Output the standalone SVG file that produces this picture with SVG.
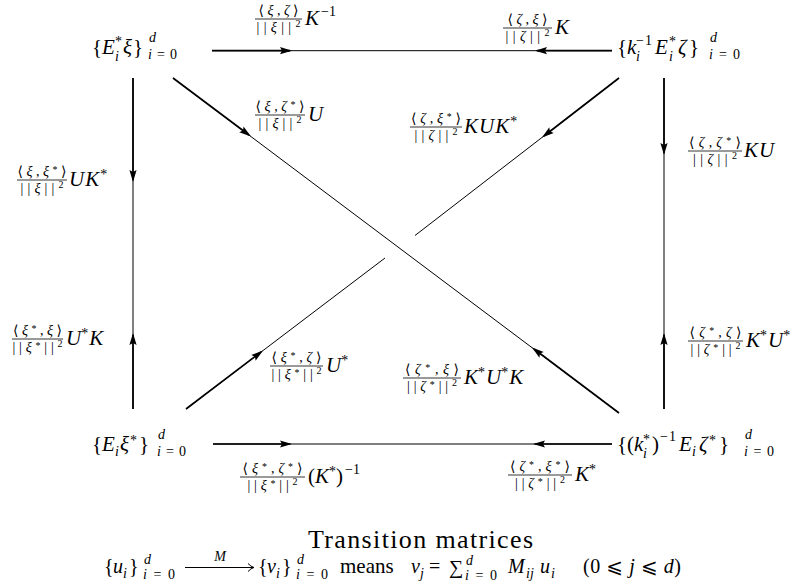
<svg xmlns="http://www.w3.org/2000/svg" width="803" height="587" viewBox="0 0 803 587">
<style>
text { font-family: "Liberation Serif", "DejaVu Serif", "DejaVu Sans", serif; fill: #000; }
.M { font-size: 21px; }
.S { font-size: 14px; }
.SS { font-size: 10px; }
.i { font-style: italic; }
.n { font-style: normal; }
.c { text-anchor: middle; }
.e { stroke: #000; stroke-width: 1; fill: none; }
.t { stroke: #000; stroke-width: 1.7; fill: none; }
.fb { stroke: #000; stroke-width: 0.8; }
.ah { fill: #000; }
</style>
<defs>
<path id="ah" class="ah" d="M0,0 L-12,-3.6 L-10,0 L-12,3.6 Z"/>
</defs>
<rect width="803" height="587" fill="#fff"/>

<g id="connectors">
  <line class="e" x1="212" y1="50.7" x2="612" y2="50.7"/>
  <line class="t" x1="212" y1="50.7" x2="290" y2="50.7"/>
  <line class="t" x1="537" y1="50.7" x2="612" y2="50.7"/>
  <use href="#ah" transform="translate(292,50.7)"/>
  <use href="#ah" transform="translate(535,50.7) rotate(180)"/>
  <line class="e" x1="213" y1="444" x2="612" y2="444"/>
  <line class="t" x1="213" y1="444" x2="290" y2="444"/>
  <line class="t" x1="535" y1="444" x2="612" y2="444"/>
  <use href="#ah" transform="translate(292,444)"/>
  <use href="#ah" transform="translate(533,444) rotate(180)"/>
  <line class="e" x1="133" y1="78" x2="133" y2="409"/>
  <line class="t" x1="133" y1="78" x2="133" y2="180"/>
  <line class="t" x1="133" y1="335" x2="133" y2="409"/>
  <use href="#ah" transform="translate(133,182) rotate(90)"/>
  <use href="#ah" transform="translate(133,333) rotate(-90)"/>
  <line class="e" x1="664" y1="78" x2="664" y2="409"/>
  <line class="t" x1="664" y1="78" x2="664" y2="153"/>
  <line class="t" x1="664" y1="335" x2="664" y2="409"/>
  <use href="#ah" transform="translate(664,155) rotate(90)"/>
  <use href="#ah" transform="translate(664,333) rotate(-90)"/>
  <line class="e" x1="173" y1="78" x2="619" y2="413"/>
  <line class="t" x1="173" y1="78" x2="249" y2="135"/>
  <line class="t" x1="534" y1="349" x2="619" y2="413"/>
  <use href="#ah" transform="translate(251,136.6) rotate(36.9)"/>
  <use href="#ah" transform="translate(532,347.6) rotate(216.9)"/>
  <line class="e" x1="619" y1="78" x2="415" y2="235.5"/>
  <line class="e" x1="385" y1="258" x2="186" y2="409"/>
  <line class="t" x1="619" y1="78" x2="544" y2="136"/>
  <line class="t" x1="186" y1="409" x2="261" y2="352"/>
  <use href="#ah" transform="translate(542,137.4) rotate(142.3)"/>
  <use href="#ah" transform="translate(263,350.6) rotate(-37.2)"/>
</g>

<g id="node-tl">
  <text class="M" y="54"><tspan x="92">{</tspan><tspan x="102" class="i">E</tspan><tspan x="123" class="i">ξ</tspan><tspan x="133">}</tspan></text>
  <text class="S" x="115" y="46">*</text>
  <text class="S i" x="115" y="61">i</text>
  <text class="S i" x="149" y="42">d</text>
  <text class="S" x="148" y="59" font-size="15" textLength="29"><tspan class="i">i</tspan>=0</text>
</g>

<g id="node-tr">
  <text class="M" y="54"><tspan x="617">{</tspan><tspan x="627" class="i">k</tspan><tspan x="655" class="i">E</tspan><tspan x="678" class="i">ζ</tspan><tspan x="689">}</tspan></text>
  <text class="S" x="636" y="45" textLength="16">−1</text>
  <text class="S i" x="636" y="61">i</text>
  <text class="S" x="669" y="46">*</text>
  <text class="S i" x="669" y="61">i</text>
  <text class="S i" x="710" y="42">d</text>
  <text class="S" x="709" y="59" font-size="15" textLength="31"><tspan class="i">i</tspan>=0</text>
</g>

<g id="node-bl">
  <text class="M" y="451"><tspan x="92">{</tspan><tspan x="102" class="i">E</tspan><tspan x="120" class="i">ξ</tspan><tspan x="139">}</tspan></text>
  <text class="S i" x="115" y="456">i</text>
  <text class="S" x="130" y="445">*</text>
  <text class="S i" x="158" y="439">d</text>
  <text class="S" x="157" y="456" font-size="15" textLength="29"><tspan class="i">i</tspan>=0</text>
</g>

<g id="node-br">
  <text class="M" y="451"><tspan x="617">{</tspan><tspan x="627">(</tspan><tspan x="634" class="i">k</tspan><tspan x="652">)</tspan><tspan x="679" class="i">E</tspan><tspan x="699" class="i">ζ</tspan><tspan x="719">}</tspan></text>
  <text class="S" x="643" y="444">*</text>
  <text class="S i" x="643" y="458">i</text>
  <text class="S" x="660" y="441" textLength="16">−1</text>
  <text class="S i" x="692" y="456">i</text>
  <text class="S" x="709" y="445">*</text>
  <text class="S i" x="745" y="439">d</text>
  <text class="S" x="744" y="456" font-size="15" textLength="30"><tspan class="i">i</tspan>=0</text>
</g>

<g id="labels">
  <g id="lab-top1">
    <text class="S c" x="278.5" y="14.5" textLength="40">⟨<tspan class="i">ξ</tspan>,<tspan class="i">ζ</tspan>⟩</text>
    <line class="fb" x1="255" y1="19" x2="302" y2="19"/>
    <text class="S c" x="278.5" y="31.5" textLength="44">||<tspan class="i">ξ</tspan>||<tspan class="SS" dy="-5">2</tspan></text>
    <text class="M i" x="305" y="25">K<tspan class="S n" dx="2" dy="-9">−1</tspan></text>
  </g>
  <g id="lab-top2">
    <text class="S c" x="527.5" y="23.5" textLength="40">⟨<tspan class="i">ζ</tspan>,<tspan class="i">ξ</tspan>⟩</text>
    <line class="fb" x1="503" y1="28" x2="552" y2="28"/>
    <text class="S c" x="527.5" y="40.5" textLength="44">||<tspan class="i">ζ</tspan>||<tspan class="SS" dy="-5">2</tspan></text>
    <text class="M i" x="555" y="34">K</text>
  </g>
  <g id="lab-tldiag">
    <text class="S c" x="280" y="110.5" textLength="49">⟨<tspan class="i">ξ</tspan>,<tspan class="i">ζ</tspan><tspan class="SS" dy="-3">*</tspan><tspan dy="3">⟩</tspan></text>
    <line class="fb" x1="255" y1="115" x2="305" y2="115"/>
    <text class="S c" x="280" y="127.5" textLength="43">||<tspan class="i">ξ</tspan>||<tspan class="SS" dy="-5">2</tspan></text>
    <text class="M i" x="308" y="121">U</text>
  </g>
  <g id="lab-trdiag">
    <text class="S c" x="436" y="122.5" textLength="50">⟨<tspan class="i">ζ</tspan>,<tspan class="i">ξ</tspan><tspan class="SS" dy="-3">*</tspan><tspan dy="3">⟩</tspan></text>
    <line class="fb" x1="410" y1="127" x2="462" y2="127"/>
    <text class="S c" x="436" y="139.5" textLength="43">||<tspan class="i">ζ</tspan>||<tspan class="SS" dy="-5">2</tspan></text>
    <text class="M i" x="464" y="133" letter-spacing="1">KUK<tspan class="S n" dy="-7">*</tspan></text>
  </g>
  <g id="lab-rvert">
    <text class="S c" x="715" y="146.5" textLength="52">⟨<tspan class="i">ζ</tspan>,<tspan class="i">ζ</tspan><tspan class="SS" dy="-3">*</tspan><tspan dy="3">⟩</tspan></text>
    <line class="fb" x1="688" y1="151" x2="742" y2="151"/>
    <text class="S c" x="715" y="163.5" textLength="44">||<tspan class="i">ζ</tspan>||<tspan class="SS" dy="-5">2</tspan></text>
    <text class="M i" x="744" y="157" letter-spacing="1">KU</text>
  </g>
  <g id="lab-lvert">
    <text class="S c" x="42" y="175.5" textLength="49">⟨<tspan class="i">ξ</tspan>,<tspan class="i">ξ</tspan><tspan class="SS" dy="-3">*</tspan><tspan dy="3">⟩</tspan></text>
    <line class="fb" x1="17" y1="180" x2="67" y2="180"/>
    <text class="S c" x="42" y="192.5" textLength="43">||<tspan class="i">ξ</tspan>||<tspan class="SS" dy="-5">2</tspan></text>
    <text class="M i" x="69" y="186" letter-spacing="1">UK<tspan class="S n" dy="-7">*</tspan></text>
  </g>
  <g id="lab-lup">
    <text class="S c" x="37.5" y="334.5" textLength="49">⟨<tspan class="i">ξ</tspan><tspan class="SS" dy="-3">*</tspan><tspan dy="3">,</tspan><tspan class="i">ξ</tspan>⟩</text>
    <line class="fb" x1="12" y1="339" x2="63" y2="339"/>
    <text class="S c" x="37.5" y="351.5" textLength="50">||<tspan class="i">ξ</tspan><tspan class="SS" dy="-3">*</tspan><tspan dy="3">||</tspan><tspan class="SS" dy="-5">2</tspan></text>
    <text class="M i" x="66" y="345">U<tspan class="S n" dy="-7">*</tspan><tspan dx="1" dy="7">K</tspan></text>
  </g>
  <g id="lab-bldiag">
    <text class="S c" x="296.5" y="361.5" textLength="50">⟨<tspan class="i">ξ</tspan><tspan class="SS" dy="-3">*</tspan><tspan dy="3">,</tspan><tspan class="i">ζ</tspan>⟩</text>
    <line class="fb" x1="270" y1="366" x2="323" y2="366"/>
    <text class="S c" x="296.5" y="378.5" textLength="50">||<tspan class="i">ξ</tspan><tspan class="SS" dy="-3">*</tspan><tspan dy="3">||</tspan><tspan class="SS" dy="-5">2</tspan></text>
    <text class="M i" x="326" y="372">U<tspan class="S n" dy="-7">*</tspan></text>
  </g>
  <g id="lab-brdiag">
    <text class="S c" x="432" y="373.5" textLength="54">⟨<tspan class="i">ζ</tspan><tspan class="SS" dy="-3">*</tspan><tspan dy="3">,</tspan><tspan class="i">ξ</tspan>⟩</text>
    <line class="fb" x1="403" y1="378" x2="461" y2="378"/>
    <text class="S c" x="432" y="390.5" textLength="50">||<tspan class="i">ζ</tspan><tspan class="SS" dy="-3">*</tspan><tspan dy="3">||</tspan><tspan class="SS" dy="-5">2</tspan></text>
    <text class="M i" x="464" y="384">K<tspan class="S n" dy="-7">*</tspan><tspan dx="1" dy="7">U</tspan><tspan class="S n" dy="-7">*</tspan><tspan dx="1" dy="7">K</tspan></text>
  </g>
  <g id="lab-rup">
    <text class="S c" x="715.5" y="336.5" textLength="52">⟨<tspan class="i">ζ</tspan><tspan class="SS" dy="-3">*</tspan><tspan dy="3">,</tspan><tspan class="i">ζ</tspan>⟩</text>
    <line class="fb" x1="688" y1="341" x2="743" y2="341"/>
    <text class="S c" x="715.5" y="353.5" textLength="50">||<tspan class="i">ζ</tspan><tspan class="SS" dy="-3">*</tspan><tspan dy="3">||</tspan><tspan class="SS" dy="-5">2</tspan></text>
    <text class="M i" x="746" y="347">K<tspan class="S n" dy="-7">*</tspan><tspan dx="1" dy="7">U</tspan><tspan class="S n" dy="-7">*</tspan></text>
  </g>
  <g id="lab-bot1">
    <text class="S c" x="272.5" y="472.5" textLength="60">⟨<tspan class="i">ξ</tspan><tspan class="SS" dy="-3">*</tspan><tspan dy="3">,</tspan><tspan class="i">ζ</tspan><tspan class="SS" dy="-3">*</tspan><tspan dy="3">⟩</tspan></text>
    <line class="fb" x1="240" y1="477" x2="305" y2="477"/>
    <text class="S c" x="272.5" y="489.5" textLength="50">||<tspan class="i">ξ</tspan><tspan class="SS" dy="-3">*</tspan><tspan dy="3">||</tspan><tspan class="SS" dy="-5">2</tspan></text>
    <text class="M" x="308" y="483">(<tspan class="i">K</tspan><tspan class="S" dy="-7">*</tspan><tspan dy="7">)</tspan><tspan class="S" dx="2" dy="-9">−1</tspan></text>
  </g>
  <g id="lab-bot2">
    <text class="S c" x="540" y="470.5" textLength="60">⟨<tspan class="i">ζ</tspan><tspan class="SS" dy="-3">*</tspan><tspan dy="3">,</tspan><tspan class="i">ξ</tspan><tspan class="SS" dy="-3">*</tspan><tspan dy="3">⟩</tspan></text>
    <line class="fb" x1="508" y1="475" x2="572" y2="475"/>
    <text class="S c" x="540" y="487.5" textLength="50">||<tspan class="i">ζ</tspan><tspan class="SS" dy="-3">*</tspan><tspan dy="3">||</tspan><tspan class="SS" dy="-5">2</tspan></text>
    <text class="M i" x="575" y="481">K<tspan class="S n" dy="-7">*</tspan></text>
  </g>
</g>

<g id="caption">
  <text x="420.5" y="548" class="c" font-size="26" textLength="225">Transition matrices</text>
  <text y="573" font-size="20"><tspan x="104">{</tspan><tspan x="113" class="i">u</tspan><tspan x="129">}</tspan></text>
  <text class="S i" x="123" y="578">i</text>
  <text class="S i" x="144" y="564">d</text>
  <text class="S" x="143" y="579" textLength="32"><tspan class="i">i</tspan>=0</text>
  <line class="e" x1="185" y1="567.5" x2="254" y2="567.5" stroke-width="0.9"/>
  <path class="e" stroke-width="0.9" d="M248,563.5 Q251,566.8 254,567.5 Q251,568.2 248,571.5"/>
  <text class="S i c" x="220" y="561">M</text>
  <text y="573" font-size="20"><tspan x="258">{</tspan><tspan x="267" class="i">v</tspan><tspan x="282">}</tspan></text>
  <text class="S i" x="276" y="578">i</text>
  <text class="S i" x="297" y="564">d</text>
  <text class="S" x="296" y="579" textLength="32"><tspan class="i">i</tspan>=0</text>
  <text x="340" y="573" font-size="21">means</text>
  <text class="i" x="411" y="573" font-size="20">v</text>
  <text class="S i" x="420" y="578">j</text>
  <text x="429" y="573" font-size="20">=</text>
  <text x="449" y="574" font-size="20">∑</text>
  <text class="S i" x="466" y="565">d</text>
  <text class="S" x="465" y="580" textLength="32"><tspan class="i">i</tspan>=0</text>
  <text class="i" x="508" y="573" font-size="20">M</text>
  <text class="S i" x="526" y="578">ij</text>
  <text class="i" x="540" y="573" font-size="20">u</text>
  <text class="S i" x="551" y="578">i</text>
  <text x="583" y="573" font-size="20" textLength="98">(0 ⩽ <tspan class="i">j</tspan> ⩽ <tspan class="i">d</tspan>)</text>
</g>
</svg>
